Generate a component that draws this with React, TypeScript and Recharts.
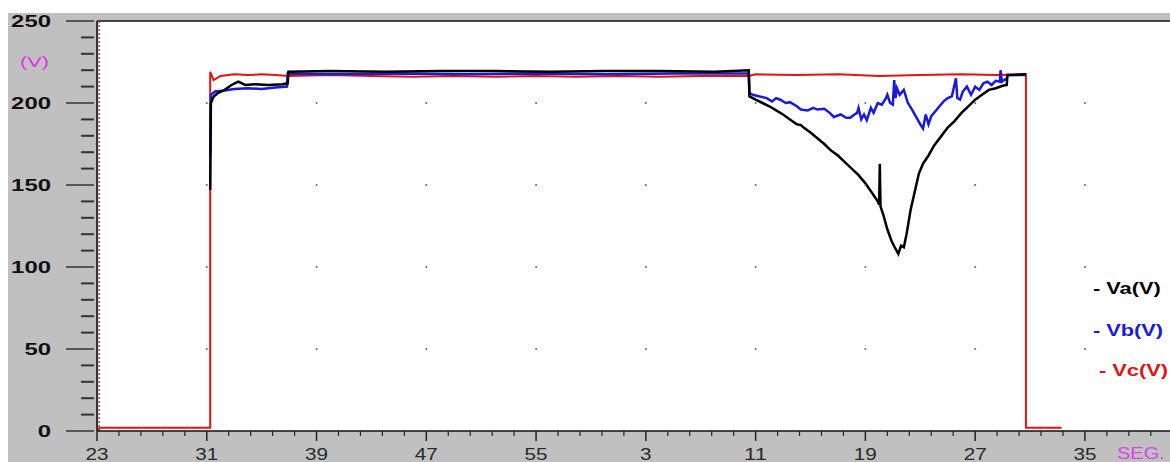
import React from 'react';
import { ComposedChart, Line, XAxis, YAxis, CartesianGrid, ReferenceLine, ReferenceDot } from 'recharts';

// time in seconds (continuous, labels wrap at 60), voltage in V
const vaPoints: [number, number][] = [
  [31.25, 147], [31.3, 200], [31.5, 204], [31.8, 206], [32.3, 208], [32.8, 211], [33.3, 213], [33.8, 211],
  [34.5, 211.5], [35.5, 211], [36.5, 211.5], [36.9, 212], [36.95, 219], [40, 219.5], [44, 219], [48, 219.5],
  [52, 219.5], [56, 219], [60, 219.5], [64, 219.5], [68, 219], [70.5, 220], [70.55, 204], [71, 202],
  [71.5, 200], [72, 198], [72.5, 195.5], [73, 193], [73.5, 190], [74, 187], [74.3, 186.5], [74.5, 185],
  [75, 182], [75.5, 178.5], [76, 175], [76.5, 171], [77, 168], [77.5, 164], [78, 160], [78.5, 156],
  [79, 151], [79.5, 145], [79.9, 140], [80, 138], [80.05, 163], [80.1, 137], [80.3, 132], [80.6, 123],
  [80.9, 116], [81.2, 111], [81.4, 108], [81.6, 113], [81.8, 112], [82, 120], [82.3, 135], [82.6, 146],
  [82.9, 157], [83.2, 163], [83.6, 168], [84, 174], [84.5, 179.5], [85, 185], [85.5, 189], [86, 194],
  [86.5, 198], [87, 202], [87.5, 205], [88, 208], [88.5, 209], [89, 210.5], [89.3, 211], [89.35, 217],
  [90.7, 217.5],
];

const vbPoints: [number, number][] = [
  [31.25, 168], [31.3, 205], [31.6, 207], [32.2, 207.5], [33, 208.5], [34, 209], [35, 208.5], [36, 209.5],
  [36.85, 210], [36.9, 218], [40, 217.5], [45, 218], [50, 217.5], [55, 218], [60, 217.5], [65, 218],
  [70.5, 218], [70.55, 206], [70.8, 205], [71.3, 204], [71.8, 203], [72.2, 201], [72.5, 203], [72.8, 202],
  [73.2, 200], [73.5, 200.5], [74, 198], [74.3, 196], [74.8, 195.5], [75.2, 197], [75.5, 196], [76, 196.5],
  [76.4, 194], [76.7, 191.5], [77.2, 193], [77.6, 191], [77.9, 191], [78.2, 193], [78.4, 194], [78.5, 197],
  [78.7, 190], [78.9, 193], [79.1, 189.5], [79.4, 197], [79.6, 194], [79.9, 200], [80.2, 199], [80.5, 203],
  [80.6, 205], [80.8, 200], [81, 199], [81.1, 214], [81.2, 203], [81.3, 209], [81.5, 205], [81.8, 208],
  [82.1, 200], [82.4, 196], [82.8, 190], [83, 187], [83.2, 184.5], [83.4, 193], [83.6, 187], [83.8, 192],
  [84.1, 195], [84.4, 198], [84.7, 201], [85, 203], [85.3, 204], [85.6, 215], [85.7, 203], [85.9, 202],
  [86.1, 207], [86.4, 210], [86.7, 205], [87, 210], [87.3, 208], [87.6, 212], [87.9, 213], [88.2, 211],
  [88.5, 213.5], [88.8, 213], [88.85, 220], [88.95, 213], [89.3, 215], [89.35, 217], [90.7, 217],
];

const vcPoints: [number, number][] = [
  [23, 0], [23.2, 2], [31.25, 2], [31.25, 219], [31.5, 214], [32, 216.5], [33, 217.5], [34, 217],
  [35, 217.5], [36, 217], [37, 216.5], [40, 217], [43, 216.5], [46, 216], [49, 216.5], [52, 216],
  [55, 216.5], [58, 216], [61, 216.5], [64, 216], [67, 216.5], [70.5, 216.5], [71, 217.5], [74, 217],
  [77, 217.5], [80, 216.5], [83, 217], [86, 217.5], [88.5, 217], [90.7, 217.5], [90.7, 2], [93.3, 2],
];

const xTicks = Array.from({ length: 49 }, (_, k) => Math.round(230 + k * 16) / 10);
const xMajor = [23, 31, 39, 47, 55, 63, 71, 79, 87, 95];
const yTicks = Array.from({ length: 26 }, (_, k) => k * 10);
const yMajor = [50, 100, 150, 200];

const toRows = (pts: [number, number][]) => pts.map(([t, v]) => ({ t, v }));

const XTick = (props: any) => {
  const { x, y, payload } = props;
  const major = xMajor.some((m) => Math.abs(m - payload.value) < 0.01);
  const label = String(Math.round(payload.value) % 60);
  return (
    <g>
      <line x1={x} x2={x} y1={y} y2={y + (major ? 10 : 5)} stroke="#222" strokeWidth={major ? 1.5 : 1.2} />
      {major && (
        <text x={x} y={y + 29} textAnchor="middle" fontSize={16} fill="#2a2a2a"
          fontFamily="'Liberation Sans', Arial, sans-serif"
          textLength={label.length * 11.5} lengthAdjust="spacingAndGlyphs">
          {label}
        </text>
      )}
    </g>
  );
};

const YTick = (props: any) => {
  const { x, y, payload } = props;
  const v = payload.value;
  const major = v % 50 === 0;
  const label = String(v);
  return (
    <g>
      <line x1={major ? x - 31 : x - 16} x2={x - 3} y1={y} y2={y} stroke="#333" strokeWidth={major ? 1.5 : 2} />
      {major && (
        <text x={51} y={y + 6} textAnchor="end" fontSize={17} fontWeight="bold" fill="#111"
          fontFamily="'Liberation Sans', Arial, sans-serif"
          textLength={label.length * 13.3} lengthAdjust="spacingAndGlyphs">
          {label}
        </text>
      )}
    </g>
  );
};

const legendItems = [
  { name: 'Va(V)', color: '#000', left: 1093 },
  { name: 'Vb(V)', color: '#1a1ad8', left: 1093 },
  { name: 'Vc(V)', color: '#e01414', left: 1099 },
];
const legendTops = [290, 332, 372];

const App: React.FC = () => {
  return (
    <div style={{ position: 'absolute', left: 0, top: 0, width: 1170, height: 462, overflow: 'hidden', background: '#fff' }}>
      <div style={{ position: 'absolute', left: 8, top: 13, right: 0, bottom: 0, background: '#c0c0c0' }} />
      <div style={{ position: 'absolute', left: 0, top: 0 }}>
        <ComposedChart width={1170} height={462} margin={{ top: 21, right: 0, left: 0, bottom: 0 }}>
          <CartesianGrid fill="#fff" horizontal={false} vertical={false} />
          <XAxis
            dataKey="t"
            type="number"
            domain={[23, 101.2]}
            allowDataOverflow
            ticks={xTicks}
            interval={0}
            tick={<XTick />}
            tickLine={false}
            tickSize={0}
            tickMargin={0}
            height={31}
            axisLine={{ stroke: '#111', strokeWidth: 1.5 }}
          />
          <YAxis
            type="number"
            domain={[0, 250]}
            allowDataOverflow
            ticks={yTicks}
            interval={0}
            tick={<YTick />}
            tickLine={false}
            tickSize={0}
            tickMargin={0}
            width={97}
            axisLine={{ stroke: '#333', strokeWidth: 2 }}
          />
          {xMajor.slice(1).flatMap((gx) =>
            yMajor.map((gy) => (
              <ReferenceDot key={`${gx}-${gy}`} x={gx} y={gy} r={1} fill="#666" stroke="none" />
            ))
          )}
          <ReferenceLine y={250} stroke="#111" strokeWidth={1.5} />
          <ReferenceLine x={23.15} stroke="#d03050" strokeWidth={1.5} strokeDasharray="2 2" />
          <Line data={toRows(vcPoints)} dataKey="v" type="linear" stroke="#e01414" strokeWidth={2} dot={false} isAnimationActive={false} />
          <Line data={toRows(vbPoints)} dataKey="v" type="linear" stroke="#1a1ad8" strokeWidth={2.5} dot={false} isAnimationActive={false} />
          <Line data={toRows(vaPoints)} dataKey="v" type="linear" stroke="#000" strokeWidth={2.5} dot={false} isAnimationActive={false} />
        </ComposedChart>
      </div>
      <div style={{ position: 'absolute', left: 20, top: 53, color: '#e030e8', fontFamily: "'Liberation Sans', Arial, sans-serif", fontSize: 15, transform: 'scaleX(1.45)', transformOrigin: 'left top' }}>
        (V)
      </div>
      <div style={{ position: 'absolute', left: 1117, top: 445, color: '#d848e8', fontFamily: "'Liberation Sans', Arial, sans-serif", fontSize: 16, transform: 'scaleX(1.25)', transformOrigin: 'left top' }}>
        SEG.
      </div>
      {legendItems.map((it, i) => (
        <div key={it.name} style={{ position: 'absolute', left: it.left, top: legendTops[i] - 11, color: it.color, fontFamily: "'Liberation Sans', Arial, sans-serif", fontSize: 17, fontWeight: 'bold', whiteSpace: 'nowrap', transform: 'scaleX(1.28)', transformOrigin: 'left top' }}>
          - {it.name}
        </div>
      ))}
    </div>
  );
};

export default App;
